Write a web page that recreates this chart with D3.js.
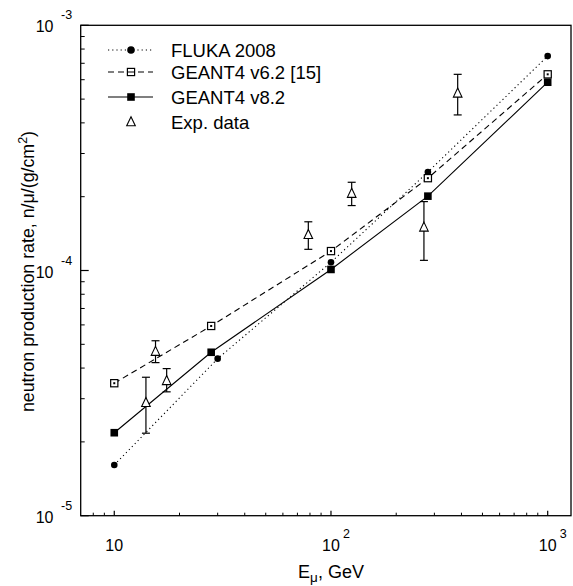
<!DOCTYPE html>
<html>
<head>
<meta charset="utf-8">
<script src="https://cdn.jsdelivr.net/npm/d3@7"></script>
<style>
  html, body { margin: 0; padding: 0; background: #fff; }
  svg { display: block; font-family: "Liberation Sans", Arial, Helvetica, sans-serif; }
</style>
</head>
<body>
<svg id="chart" width="573" height="586"></svg>
<script>
// ---- data ----
const flukaE    = [10, 30, 100, 280, 1000];
const flukaRate = [1.61e-5, 4.37e-5, 1.08e-4, 2.52e-4, 7.49e-4];

const g462E     = [10, 28, 100, 280, 1000];
const g462Rate  = [3.47e-5, 5.94e-5, 1.20e-4, 2.38e-4, 6.31e-4];

const g482E     = [10, 28, 100, 280, 1000];
const g482Rate  = [2.18e-5, 4.64e-5, 1.01e-4, 2.01e-4, 5.86e-4];

const expE      = [14.0, 15.5, 17.45, 78.6, 124.6, 268.5, 384.3];
const expRate   = [2.89e-5, 4.67e-5, 3.55e-5, 1.40e-4, 2.06e-4, 1.50e-4, 5.28e-4];
const expHigh   = [3.67e-5, 5.17e-5, 3.98e-5, 1.58e-4, 2.29e-4, 1.91e-4, 6.31e-4];
const expLow    = [2.17e-5, 4.21e-5, 3.20e-5, 1.22e-4, 1.84e-4, 1.10e-4, 4.31e-4];

const legendLabels = ["FLUKA 2008", "GEANT4 v6.2 [15]", "GEANT4 v8.2", "Exp. data"];
const xMajorTicks = [10, 100, 1000];
const xTickBase = ["10", "10", "10"];
const xTickExp  = ["", "2", "3"];
const yMajorTicks = [1e-3, 1e-4, 1e-5];
const yTickExp  = ["-3", "-4", "-5"];
const xTitle = ["E", "\u03bc", ", GeV"];
const yTitle = ["neutron production rate, n/\u03bc/(g/cm", "2", ")"];

// ---- layout ----
const svg = d3.select("#chart");
const L = 80.7, R = 571, T = 25.3, B = 515.7;
const x = d3.scaleLog().domain([7.0, 1281]).range([L, R]);
const y = d3.scaleLog().domain([1e-5, 1e-3]).range([B, T]);

// minor ticks
const xMinor = [];
[1, 10, 100, 1000].forEach(d => { for (let k = 2; k <= 9; k++) { const v = d * k; if (v > 7.0 && v < 1281 && !xMajorTicks.includes(v)) xMinor.push(v); } });
const yMinor = [];
[1e-5, 1e-4].forEach(d => { for (let k = 2; k <= 9; k++) yMinor.push(d * k); });

const g = svg.append("g");

// frame
g.append("rect").attr("x", L).attr("y", T).attr("width", R - L).attr("height", B - T)
  .attr("fill", "none").attr("stroke", "#000").attr("stroke-width", 1.3);

// ticks
g.selectAll(".xmaj").data(xMajorTicks).join("line")
  .attr("x1", d => x(d)).attr("x2", d => x(d)).attr("y1", B).attr("y2", B - 5)
  .attr("stroke", "#000").attr("stroke-width", 1.2);
g.selectAll(".xmin").data(xMinor).join("line")
  .attr("x1", d => x(d)).attr("x2", d => x(d)).attr("y1", B).attr("y2", B - 3)
  .attr("stroke", "#000").attr("stroke-width", 1);
g.selectAll(".ymaj").data(yMajorTicks).join("line")
  .attr("y1", d => y(d)).attr("y2", d => y(d)).attr("x1", L).attr("x2", L + 8)
  .attr("stroke", "#000").attr("stroke-width", 1.2);
g.selectAll(".ymin").data(yMinor).join("line")
  .attr("y1", d => y(d)).attr("y2", d => y(d)).attr("x1", L).attr("x2", L + 4)
  .attr("stroke", "#000").attr("stroke-width", 1);

// x tick labels
xMajorTicks.forEach((v, i) => {
  g.append("text").attr("x", x(v)).attr("y", 551)
    .attr("text-anchor", "middle").attr("font-size", 16).text(xTickBase[i]);
  if (xTickExp[i]) {
    g.append("text").attr("x", x(v) + 12).attr("y", 538)
      .attr("font-size", 12.5).text(xTickExp[i]);
  }
});
// y tick labels
yMajorTicks.forEach((v, i) => {
  g.append("text").attr("x", 53.5).attr("y", y(v) + 7)
    .attr("text-anchor", "end").attr("font-size", 16).text("10");
  g.append("text").attr("x", 61).attr("y", y(v) - 6)
    .attr("font-size", 12.5).text(yTickExp[i]);
});

// axis titles
const xt = g.append("text").attr("x", 331).attr("y", 578).attr("text-anchor", "middle").attr("font-size", 18);
xt.append("tspan").text(xTitle[0]);
xt.append("tspan").attr("dy", 4).attr("font-size", 13.5).text(xTitle[1]);
xt.append("tspan").attr("dy", -4).text(xTitle[2]);

const yt = g.append("text").attr("transform", "translate(33.5,271.5) rotate(-90)")
  .attr("text-anchor", "middle").attr("font-size", 17.8);
yt.append("tspan").text(yTitle[0]);
yt.append("tspan").attr("dy", -7).attr("font-size", 12.5).text(yTitle[1]);
yt.append("tspan").attr("dy", 7).text(yTitle[2]);

// lines
const line = d3.line().x(d => x(d[0])).y(d => y(d[1]));
const plot = g.append("g");
plot.append("path").datum(d3.zip(flukaE, flukaRate)).attr("d", line)
  .attr("fill", "none").attr("stroke", "#000").attr("stroke-width", 1.1).attr("stroke-dasharray", "1.2,3");
plot.append("path").datum(d3.zip(g462E, g462Rate)).attr("d", line)
  .attr("fill", "none").attr("stroke", "#000").attr("stroke-width", 1.1).attr("stroke-dasharray", "6,4");
plot.append("path").datum(d3.zip(g482E, g482Rate)).attr("d", line)
  .attr("fill", "none").attr("stroke", "#000").attr("stroke-width", 1.1);

// markers
const triPath = (cx, cy) => `M${cx},${cy - 5.2} L${cx + 4.3},${cy + 3.8} L${cx - 4.3},${cy + 3.8} Z`;

// error bars
const cap = 4;
d3.range(expE.length).forEach(i => {
  const cx = x(expE[i]);
  plot.append("line").attr("x1", cx).attr("x2", cx).attr("y1", y(expHigh[i])).attr("y2", y(expLow[i]))
    .attr("stroke", "#000").attr("stroke-width", 1.2);
  [expHigh[i], expLow[i]].forEach(v => {
    plot.append("line").attr("x1", cx - cap).attr("x2", cx + cap).attr("y1", y(v)).attr("y2", y(v))
      .attr("stroke", "#000").attr("stroke-width", 1.2);
  });
});
plot.selectAll(".exp").data(d3.zip(expE, expRate)).join("path")
  .attr("d", d => triPath(x(d[0]), y(d[1])))
  .attr("fill", "#fff").attr("stroke", "#000").attr("stroke-width", 1.1);

plot.selectAll(".fl").data(d3.zip(flukaE, flukaRate)).join("circle")
  .attr("cx", d => x(d[0])).attr("cy", d => y(d[1])).attr("r", 3.3).attr("fill", "#000");
plot.selectAll(".g6").data(d3.zip(g462E, g462Rate)).join("rect")
  .attr("x", d => x(d[0]) - 3.6).attr("y", d => y(d[1]) - 3.6).attr("width", 7.2).attr("height", 7.2)
  .attr("fill", "#fff").attr("stroke", "#000").attr("stroke-width", 1.2);
plot.selectAll(".g6d").data(d3.zip(g462E, g462Rate)).join("rect")
  .attr("x", d => x(d[0]) - 1).attr("y", d => y(d[1]) - 1).attr("width", 2).attr("height", 2)
  .attr("fill", "#000");
plot.selectAll(".g8").data(d3.zip(g482E, g482Rate)).join("rect")
  .attr("x", d => x(d[0]) - 3.8).attr("y", d => y(d[1]) - 3.8).attr("width", 7.6).attr("height", 7.6)
  .attr("fill", "#000");

// legend
const legY = [50, 72, 97, 122];
const lx1 = 108, lx2 = 153, lmx = 131, ltx = 171;
const leg = g.append("g");
const styles = ["1.2,3", "6,4", null, "none"];
legendLabels.forEach((lab, i) => {
  const cy = legY[i];
  if (styles[i] !== "none") {
    const ln = leg.append("line").attr("x1", lx1).attr("x2", lx2).attr("y1", cy).attr("y2", cy)
      .attr("stroke", "#000").attr("stroke-width", 1.1);
    if (styles[i]) ln.attr("stroke-dasharray", styles[i]);
  }
  if (i === 0) leg.append("circle").attr("cx", lmx).attr("cy", cy).attr("r", 3.8).attr("fill", "#000");
  if (i === 1) leg.append("rect").attr("x", lmx - 3.6).attr("y", cy - 3.6).attr("width", 7.2).attr("height", 7.2)
    .attr("fill", "none").attr("stroke", "#000").attr("stroke-width", 1.2);
  if (i === 2) leg.append("rect").attr("x", lmx - 3.8).attr("y", cy - 3.8).attr("width", 7.6).attr("height", 7.6).attr("fill", "#000");
  if (i === 3) leg.append("path").attr("d", triPath(lmx, cy)).attr("fill", "#fff").attr("stroke", "#000").attr("stroke-width", 1.1);
  leg.append("text").attr("x", ltx).attr("y", cy + 6.5).attr("font-size", 18.5).text(lab);
});
</script>
</body>
</html>
